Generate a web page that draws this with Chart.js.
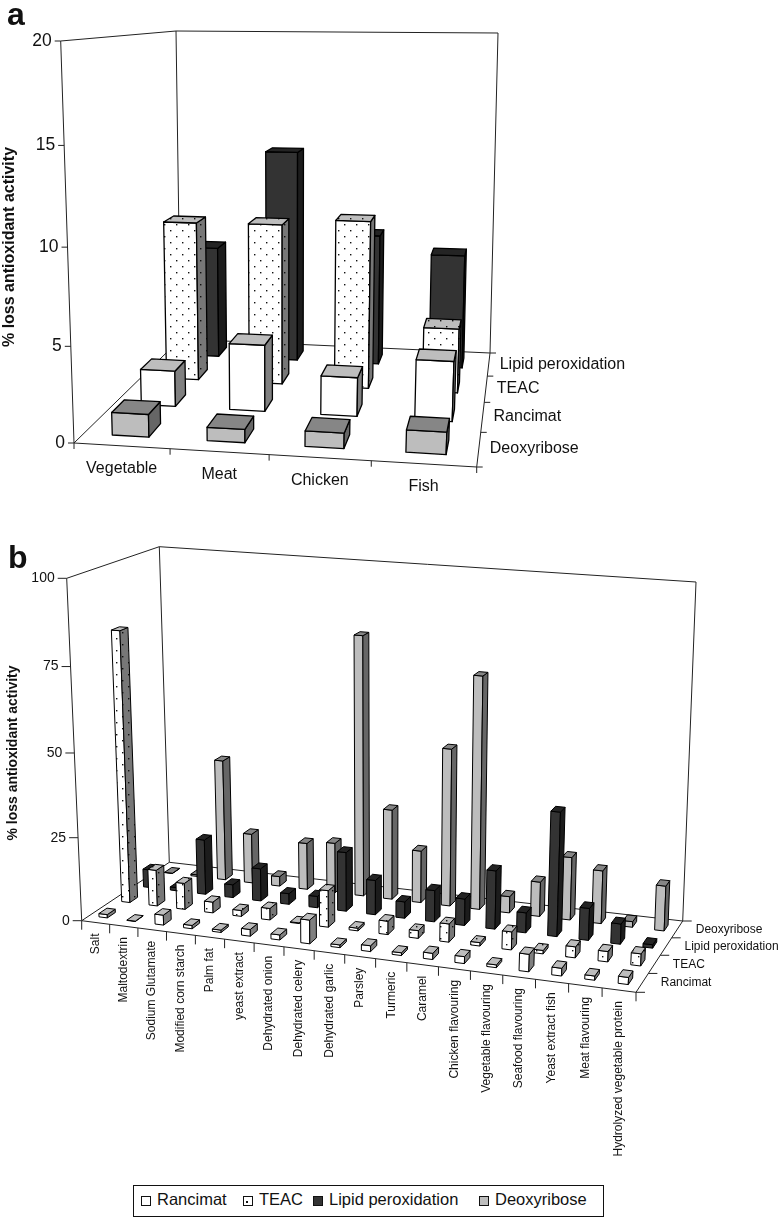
<!DOCTYPE html>
<html>
<head>
<meta charset="utf-8">
<title>% loss antioxidant activity</title>
<script src="https://cdn.jsdelivr.net/npm/chart.js@4/dist/chart.umd.min.js"></script>
<style>
    body { margin: 0; background: #fff; }
    canvas { position: absolute; left: 0; }
    #legend { position: absolute; left: 133px; top: 1185px; width: 469px; height: 30px; border: 1.5px solid #111; font: 16.5px "Liberation Sans", Arial, sans-serif; color: #111; }
    #legend span { position: absolute; top: 4px; }
    #legend i { position: absolute; top: 10px; width: 8px; height: 8px; border: 1.5px solid #111; }
</style>
</head>
<body>
<canvas id="chartA" width="780" height="510" style="top:0"></canvas>
<canvas id="chartB" width="780" height="670" style="top:510px"></canvas>
<div id="legend"></div>

<script>
// panel a
let foodsA = ['Vegetable', 'Meat', 'Chicken', 'Fish'];
let assaysA = ['Deoxyribose', 'Rancimat', 'TEAC', 'Lipid peroxidation'];
let deoxyriboseA = [1.2, 0.7, 0.8, 1.15];
let rancimatA = [2.0, 3.7, 2.15, 3.3];
let teacA = [9.35, 9.4, 9.75, 3.75];
let lipidA = [6.9, 12.95, 8.0, 6.95];

// panel b
let foodsB = ['Salt', 'Maltodextrin', 'Sodium Glutamate', 'Modified corn starch', 'Palm fat', 'yeast extract',
    'Dehydrated onion', 'Dehydrated celery', 'Dehydrated garlic', 'Parsley', 'Turmeric', 'Caramel',
    'Chicken flavouring', 'Vegetable flavouring', 'Seafood flavouring', 'Yeast extract fish',
    'Meat flavouring', 'Hydrolyzed vegetable protein'];
let assaysB = ['Rancimat', 'TEAC', 'Lipid peroxidation', 'Deoxyribose'];
let rancimatB = [1, 0.1, 3, 1, 0.7, 2, 1.5, 7, 0.8, 1.7, 0.8, 1.8, 2, 0.8, 5, 2.2, 1.2, 2];
let teacB = [82, 11, 8, 3.3, 1.8, 3.5, 0.2, 11, 0.8, 4, 2.3, 5.4, 1, 5.3, 1, 3.2, 3, 3.5];
let lipidB = [5.6, 1, 17, 4, 10, 3.3, 3.5, 18, 10.5, 5, 9.5, 8, 17.5, 6, 36.8, 9.5, 6, 1];
let deoxyriboseB = [0.1, 0.5, 37.7, 15.5, 3, 14.5, 15.5, 79.6, 27.7, 16, 48, 70.5, 5, 10.5, 19, 16, 1.7, 13.5];

// face colours for each assay: front, top, side
let looks = {
    'Rancimat': { front: '#fff', top: '#bdbdbd', side: '#808080' },
    'TEAC': { front: '#fff', top: '#bdbdbd', side: '#777', dots: true },
    'Lipid peroxidation': { front: '#333', top: '#242424', side: '#1c1c1c' },
    'Deoxyribose': { front: '#bdbdbd', top: '#868686', side: '#666' }
};

function warp(t, a) {
    return a * t / (1 + (a - 1) * t);
}

function lerp(p, q, t) {
    return { x: p.x + (q.x - p.x) * t, y: p.y + (q.y - p.y) * t };
}

// the box of the 3d plot is given by its 8 corners on the page
function projector(chart, view) {
    let xs = chart.scales.x, ys = chart.scales.y, zs = chart.scales.z;
    let top = chart.canvas.offsetTop;
    return function (px, py, pz) {
        let u = warp((px - xs.left) / xs.width, view.warp[0]);
        let v = warp((ys.bottom - py) / ys.height, view.warp[1]);
        let w = warp((pz - zs.left) / zs.width, view.warp[2]);
        let c = view.corners;
        let bottom = lerp(lerp(c.flb, c.frb, u), lerp(c.blb, c.brb, u), w);
        let upper = lerp(lerp(c.flt, c.frt, u), lerp(c.blt, c.brt, u), w);
        let p = lerp(bottom, upper, v);
        return { x: p.x, y: p.y - top };
    };
}

function poly(ctx, pts, fill, pattern) {
    ctx.beginPath();
    pts.forEach((p, i) => i ? ctx.lineTo(p.x, p.y) : ctx.moveTo(p.x, p.y));
    ctx.closePath();
    ctx.fillStyle = fill;
    ctx.fill();
    if (pattern) {
        ctx.fillStyle = pattern;
        ctx.fill();
    }
    ctx.stroke();
}

function line(ctx, p, q) {
    ctx.beginPath();
    ctx.moveTo(p.x, p.y);
    ctx.lineTo(q.x, q.y);
    ctx.stroke();
}

function dotPattern(ctx) {
    let tile = document.createElement('canvas');
    tile.width = 12;
    tile.height = 12;
    let t = tile.getContext('2d');
    t.fillStyle = '#111';
    t.fillRect(2, 2, 1.4, 1.4);
    t.fillRect(8, 8, 1.4, 1.4);
    return ctx.createPattern(tile, 'repeat');
}

let box3d = {
    id: 'box3d',
    beforeDatasetsDraw(chart) {
        let view = chart.options.plugins.box3d;
        let ctx = chart.ctx;
        let xs = chart.scales.x, ys = chart.scales.y, zs = chart.scales.z;
        let p = projector(chart, view);
        let x0 = xs.left, x1 = xs.right, y0 = ys.bottom, y1 = ys.top, z0 = zs.left, z1 = zs.right;
        let pageTop = chart.canvas.offsetTop;

        ctx.save();
        ctx.lineJoin = 'round';

        // walls and floor
        ctx.strokeStyle = '#222';
        ctx.lineWidth = 1;
        line(ctx, p(x0, y1, z0), p(x0, y1, z1));
        line(ctx, p(x0, y1, z1), p(x1, y1, z1));
        line(ctx, p(x1, y1, z1), p(x1, y0, z1));
        line(ctx, p(x0, y1, z1), p(x0, y0, z1));
        line(ctx, p(x0, y1, z0), p(x0, y0, z0));
        line(ctx, p(x0, y0, z0), p(x1, y0, z0));
        line(ctx, p(x0, y0, z0), p(x0, y0, z1));
        line(ctx, p(x0, y0, z1), p(x1, y0, z1));
        line(ctx, p(x1, y0, z0), p(x1, y0, z1));

        ctx.fillStyle = '#111';
        ctx.textBaseline = 'middle';

        // value axis
        ctx.font = view.valueFont;
        ctx.textAlign = 'right';
        ys.ticks.forEach((t) => {
            let a = p(x0, ys.getPixelForValue(t.value), z0);
            line(ctx, a, { x: a.x - view.tick, y: a.y });
            ctx.fillText(t.value, a.x - view.tick - 3, a.y);
        });

        // category axis
        let foods = xs.getLabels();
        let cell = xs.width / foods.length;
        for (let i = 0; i <= foods.length; i++) {
            let a = p(x0 + cell * i, y0, z0);
            line(ctx, a, { x: a.x, y: a.y + view.tick });
        }
        ctx.font = view.labelFont;
        foods.forEach((name, i) => {
            let a = p(xs.getPixelForValue(i), y0, z0);
            if (view.rotate) {
                ctx.save();
                ctx.translate(a.x, a.y + view.labelGap);
                ctx.rotate(-Math.PI / 2);
                ctx.textAlign = 'right';
                ctx.fillText(name, 0, 0);
                ctx.restore();
            } else {
                ctx.textAlign = 'center';
                ctx.fillText(name, a.x, a.y + view.labelGap);
            }
        });

        // depth axis
        let names = zs.getLabels();
        let row = zs.width / names.length;
        ctx.textAlign = 'left';
        for (let i = 0; i <= names.length; i++) {
            let a = p(x1, y0, z0 + row * i);
            line(ctx, a, { x: a.x + view.tick, y: a.y });
        }
        names.forEach((name, i) => {
            let a = p(x1, y0, zs.getPixelForValue(i));
            ctx.fillText(name, a.x + view.depthGap, a.y);
        });

        // titles
        ctx.font = view.titleFont;
        ctx.textAlign = 'center';
        ctx.save();
        ctx.translate(view.titleAt[0], view.titleAt[1] - pageTop);
        ctx.rotate(-Math.PI / 2);
        ctx.fillText('% loss antioxidant activity', 0, 0);
        ctx.restore();
        ctx.font = 'bold 32px "Liberation Sans", Arial, sans-serif';
        ctx.textAlign = 'left';
        ctx.textBaseline = 'alphabetic';
        ctx.fillText(view.letter, view.letterAt[0], view.letterAt[1] - pageTop);

        // bars, back row first
        let pattern = dotPattern(ctx);
        ctx.strokeStyle = '#000';
        ctx.lineWidth = view.barLine;
        for (let r = chart.data.datasets.length - 1; r >= 0; r--) {
            let look = looks[chart.data.datasets[r].label];
            let zc = zs.getPixelForValue(r);
            let za = zc - row * view.depth / 2, zb = zc + row * view.depth / 2;
            let dots = look.dots ? pattern : null;
            chart.getDatasetMeta(r).data.forEach((bar) => {
                let xa = bar.x - bar.width / 2, xb = bar.x + bar.width / 2;
                poly(ctx, [p(xa, bar.base, za), p(xb, bar.base, za), p(xb, bar.y, za), p(xa, bar.y, za)], look.front, dots);
                poly(ctx, [p(xb, bar.base, za), p(xb, bar.base, zb), p(xb, bar.y, zb), p(xb, bar.y, za)], look.side, dots);
                poly(ctx, [p(xa, bar.y, za), p(xb, bar.y, za), p(xb, bar.y, zb), p(xa, bar.y, zb)], look.top, dots);
            });
        }
        ctx.restore();
        return false;
    }
};

function makeChart(id, foods, assays, series, yMax, yStep, barShare, view) {
    return new Chart(document.getElementById(id), {
        type: 'bar',
        data: {
            labels: foods,
            datasets: assays.map((name, i) => ({
                label: name,
                data: series[i],
                grouped: false,
                barPercentage: barShare,
                categoryPercentage: 1
            }))
        },
        options: {
            responsive: false,
            animation: false,
            layout: { padding: 0 },
            scales: {
                x: { type: 'category', display: false, offset: true },
                y: { type: 'linear', display: false, min: 0, max: yMax, ticks: { stepSize: yStep } },
                z: { type: 'category', axis: 'x', position: 'bottom', display: false, offset: true, labels: assays }
            },
            plugins: {
                legend: { display: false },
                title: { display: false },
                tooltip: { enabled: false },
                box3d: view
            }
        },
        plugins: [box3d]
    });
}

document.addEventListener('DOMContentLoaded', () => {

    makeChart('chartA', foodsA, assaysA, [deoxyriboseA, rancimatA, teacA, lipidA], 20, 5, 0.39, {
        corners: {
            flb: { x: 74, y: 443 }, frb: { x: 476.7, y: 467 }, blb: { x: 180.5, y: 339 }, brb: { x: 490, y: 353 },
            flt: { x: 60.7, y: 41 }, frt: { x: 493, y: 47 }, blt: { x: 176, y: 31 }, brt: { x: 498, y: 33 }
        },
        warp: [0.94, 0.95, 1.31],
        depth: 0.42,
        tick: 6,
        labelGap: 23,
        depthGap: 11,
        rotate: false,
        valueFont: '17.5px "Liberation Sans", Arial, sans-serif',
        labelFont: '16px "Liberation Sans", Arial, sans-serif',
        titleFont: 'bold 16px "Liberation Sans", Arial, sans-serif',
        titleAt: [10, 247],
        letter: 'a',
        letterAt: [7, 25],
        barLine: 1.3
    });

    makeChart('chartB', foodsB, assaysB, [rancimatB, teacB, lipidB, deoxyriboseB], 100, 25, 0.3, {
        corners: {
            flb: { x: 81.7, y: 920.7 }, frb: { x: 636, y: 992.3 }, blb: { x: 169.3, y: 862.3 }, brb: { x: 682.7, y: 921 },
            flt: { x: 66.7, y: 578.3 }, frt: { x: 654, y: 620 }, blt: { x: 159.3, y: 546.7 }, brt: { x: 696, y: 582 }
        },
        warp: [0.903, 0.96, 1.08],
        depth: 0.35,
        tick: 9,
        labelGap: 11,
        depthGap: 18.5,
        rotate: true,
        valueFont: '14px "Liberation Sans", Arial, sans-serif',
        labelFont: '12px "Liberation Sans", Arial, sans-serif',
        titleFont: 'bold 14px "Liberation Sans", Arial, sans-serif',
        titleAt: [13, 753],
        letter: 'b',
        letterAt: [8, 568],
        barLine: 1
    });

    // legend is plain html under the second chart
    let legendNames = ['Rancimat', 'TEAC', 'Lipid peroxidation', 'Deoxyribose'];
    let legendLeft = [7, 109, 179, 345];
    let box = document.getElementById('legend');
    legendNames.forEach((name, i) => {
        let key = document.createElement('i');
        key.style.left = legendLeft[i] + 'px';
        key.style.background = looks[name].front;
        if (looks[name].dots) {
            key.style.backgroundImage = 'radial-gradient(circle at 3px 5px, #111 1px, transparent 1.2px)';
        }
        box.appendChild(key);
        let text = document.createElement('span');
        text.style.left = (legendLeft[i] + 16) + 'px';
        text.textContent = name;
        box.appendChild(text);
    });

});
</script>
</body>
</html>
